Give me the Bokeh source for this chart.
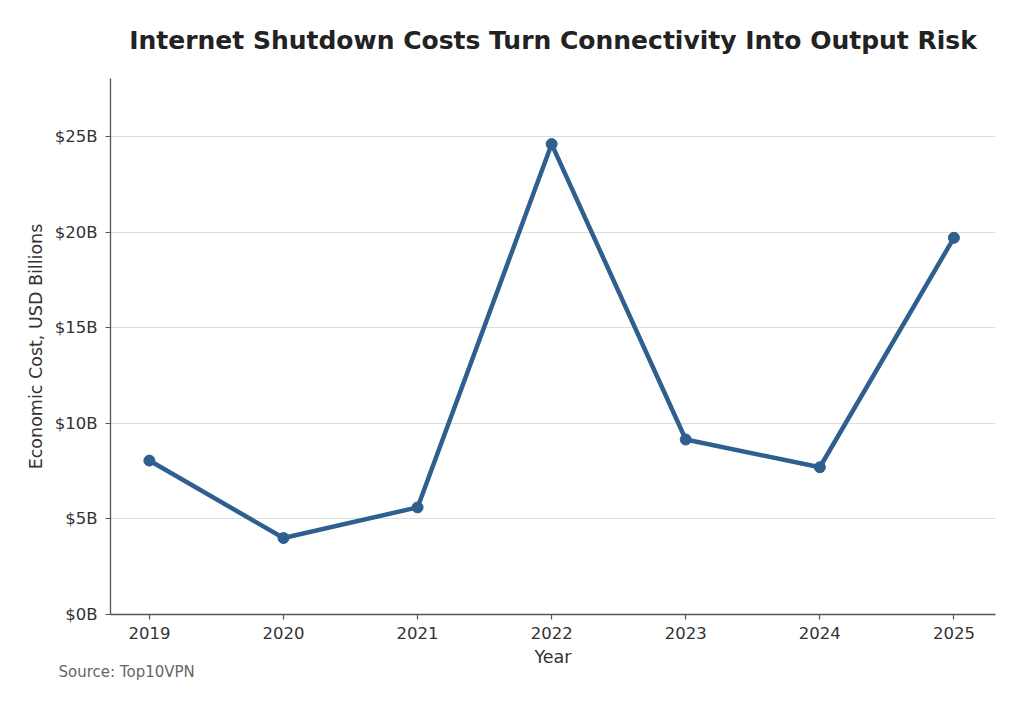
from bokeh.plotting import figure
from bokeh.models import FixedTicker, PrintfTickFormatter, Range1d, Title
from bokeh.embed import file_html
from bokeh.resources import INLINE

# Annual economic cost of internet shutdowns (USD billions)
years = [2019, 2020, 2021, 2022, 2023, 2024, 2025]
cost_billions = [8.05, 4.0, 5.6, 24.6, 9.15, 7.7, 19.7]
y_ticks = [0, 5, 10, 15, 20, 25]

LINE = "#2f5f8f"
FONT = "DejaVu Sans"

p = figure(
    width=1024, height=704,
    output_backend="svg", toolbar_location=None,
    x_range=Range1d(2018.71, 2025.31), y_range=Range1d(0, 28.03),
    min_border_left=110, min_border_right=29,
    min_border_top=78, min_border_bottom=90,
    title="Internet Shutdown Costs Turn Connectivity Into Output Risk",
)

p.title.text_font = FONT
p.title.text_font_size = "25px"
p.title.text_font_style = "bold"
p.title.text_color = "#222222"
p.title.align = "center"
p.title.standoff = 47

p.line(years, cost_billions, line_width=4.5, color=LINE)
p.scatter(years, cost_billions, size=11, color=LINE)

p.outline_line_color = None
p.xgrid.grid_line_color = None
p.ygrid.grid_line_color = "#dddddd"
p.ygrid.grid_line_width = 1.2

p.xaxis.ticker = FixedTicker(ticks=years)
p.yaxis.ticker = FixedTicker(ticks=y_ticks)
p.yaxis.formatter = PrintfTickFormatter(format="$%dB")

for ax in (p.xaxis[0], p.yaxis[0]):
    ax.axis_line_color = "#555555"
    ax.axis_line_width = 1.3
    ax.major_tick_line_color = "#555555"
    ax.major_tick_line_width = 1.2
    ax.major_tick_out = 5
    ax.major_tick_in = 0
    ax.minor_tick_line_color = None
    ax.major_label_text_font = FONT
    ax.major_label_text_font_size = "16.5px"
    ax.major_label_text_color = "#333333"
    ax.axis_label_text_font = FONT
    ax.axis_label_text_font_size = "17.5px"
    ax.axis_label_text_font_style = "normal"
    ax.axis_label_text_color = "#333333"

p.xaxis.axis_label = "Year"
p.yaxis.axis_label = "Economic Cost, USD Billions"
p.xaxis.major_label_standoff = 7
p.yaxis.major_label_standoff = 8
p.xaxis.axis_label_standoff = 5
p.yaxis.axis_label_standoff = 6

# Source note under the x axis, starting left of the frame
src = Title(text="Source: Top10VPN", align="left", offset=-52, standoff=-22,
            text_font=FONT, text_font_size="15px", text_color="#666666",
            text_font_style="normal")
p.add_layout(src, "below")

open("out.html", "w").write(file_html(p, INLINE))
